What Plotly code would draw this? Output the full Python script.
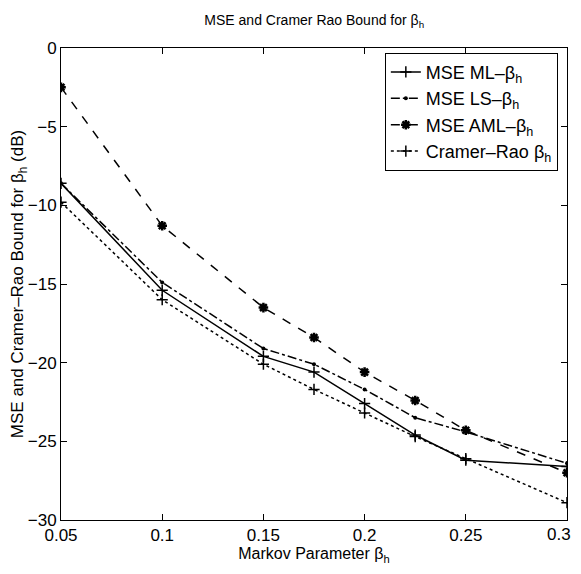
import plotly.graph_objects as go

beta = [0.05, 0.1, 0.15, 0.175, 0.2, 0.225, 0.25, 0.3]
mse_ml = [-8.6, -15.4, -19.6, -20.6, -22.6, -24.6, -26.2, -26.6]
mse_ls = [-8.6, -14.9, -19.1, -20.1, -21.7, -23.5, -24.4, -26.4]
mse_aml = [-2.5, -11.3, -16.5, -18.4, -20.6, -22.4, -24.3, -27.0]
crb = [-9.8, -16.0, -20.1, -21.7, -23.2, -24.7, -26.1, -28.9]

x_ticks = [0.05, 0.1, 0.15, 0.2, 0.25, 0.3]
x_ticklabels = ["0.05", "0.1", "0.15", "0.2", "0.25", "0.3"]
y_ticks = [0, -5, -10, -15, -20, -25, -30]

FONT = "Liberation Sans, Arial, Helvetica, sans-serif"

fig = go.Figure()
fig.add_trace(go.Scatter(x=beta, y=mse_ml, mode="lines+markers", name="MSE ML\u2013\u03b2<sub>h</sub>",
                         line=dict(color="black", width=1.5, dash="solid"),
                         marker=dict(symbol="cross-thin", size=8, line=dict(color="black", width=1.5))))
fig.add_trace(go.Scatter(x=beta, y=mse_ls, mode="lines+markers", name="MSE LS\u2013\u03b2<sub>h</sub>",
                         line=dict(color="black", width=1.5, dash="dashdot"),
                         marker=dict(symbol="circle", size=4, color="black")))
fig.add_trace(go.Scatter(x=beta, y=mse_aml, mode="lines+markers", name="MSE AML\u2013\u03b2<sub>h</sub>",
                         line=dict(color="black", width=1.5, dash="dash"),
                         marker=dict(symbol="asterisk", size=8, line=dict(color="black", width=2.5))))
fig.add_trace(go.Scatter(x=beta, y=crb, mode="lines+markers", name="Cramer\u2013Rao \u03b2<sub>h</sub>",
                         line=dict(color="black", width=1.5, dash="dot"),
                         marker=dict(symbol="cross-thin", size=8, line=dict(color="black", width=1.5))))

# the last tick label would overflow the page edge; draw it as right-aligned text instead
shown_ticklabels = x_ticklabels[:-1] + [""]

fig.update_layout(
    width=565, height=558,
    margin=dict(l=53, r=6, t=40, b=46),
    paper_bgcolor="white", plot_bgcolor="white",
    font=dict(family=FONT, color="black", size=17),
    title=dict(text="MSE and Cramer Rao Bound for \u03b2<sub>h</sub>", x=0.542, xanchor="center",
               y=0.978, yanchor="middle", font=dict(size=14, family=FONT, color="black")),
    legend=dict(x=0.64, y=0.99, xanchor="left", yanchor="top",
                bordercolor="black", borderwidth=1, bgcolor="white",
                font=dict(size=18, family=FONT, color="black"), tracegroupgap=0),
    showlegend=True,
    annotations=[dict(x=1, xref="paper", xanchor="right", xshift=6,
                      y=0, yref="paper", yanchor="top", yshift=-3,
                      text=x_ticklabels[-1], showarrow=False, font=dict(size=17, family=FONT, color="black"))],
)
fig.update_xaxes(range=[0.05, 0.3], tickvals=x_ticks, ticktext=shown_ticklabels,
                 ticks="inside", ticklen=6, tickcolor="black", showline=True, linecolor="black",
                 linewidth=1, mirror="ticks", showgrid=False, zeroline=False,
                 tickfont=dict(size=17), automargin=False,
                 title=dict(text="Markov Parameter \u03b2<sub>h</sub>", standoff=0, font=dict(size=16)))
fig.update_yaxes(range=[-30, 0], tickvals=y_ticks,
                 ticks="inside", ticklen=6, tickcolor="black", showline=True, linecolor="black",
                 linewidth=1, mirror="ticks", showgrid=False, zeroline=False,
                 tickfont=dict(size=17), automargin=False,
                 title=dict(text="MSE and Cramer\u2013Rao Bound for \u03b2<sub>h</sub> (dB)", standoff=0,
                            font=dict(size=17)))

fig.write_html("out.html", config={"displayModeBar": False})
